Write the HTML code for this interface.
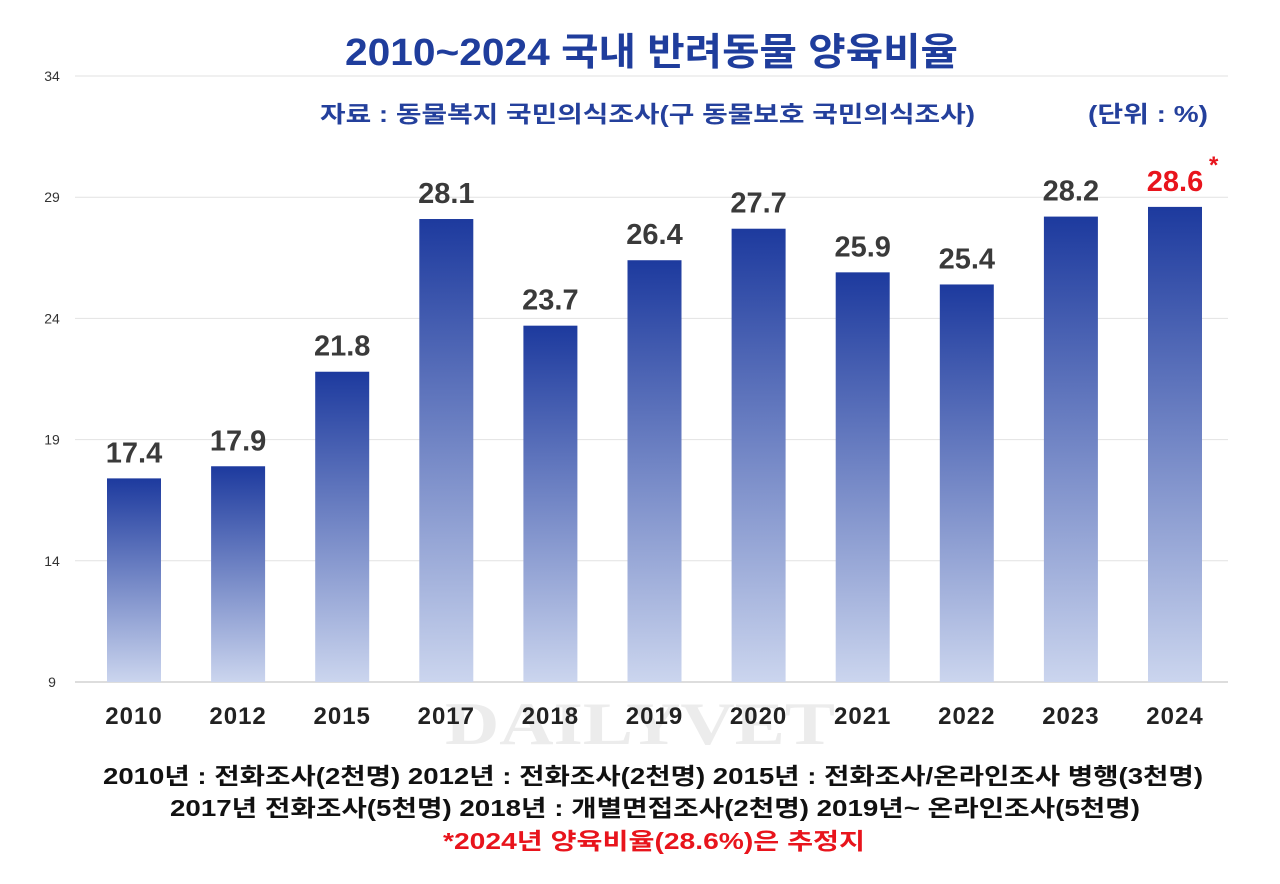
<!DOCTYPE html>
<html><head><meta charset="utf-8"><style>
html,body{margin:0;padding:0;background:#fff;}
body{width:1280px;height:879px;overflow:hidden;font-family:"Liberation Sans","Noto Sans CJK KR",sans-serif;}
svg text{font-family:"Liberation Sans","Noto Sans CJK KR",sans-serif;}
</style></head><body>
<svg id="chart" width="1280" height="879" viewBox="0 0 1280 879">
<defs><linearGradient id="g" x1="0" y1="0" x2="0" y2="1"><stop offset="0" stop-color="#1d3a9e"/><stop offset="1" stop-color="#cbd5ee"/></linearGradient></defs>
<text x="345" y="65" textLength="613" lengthAdjust="spacingAndGlyphs" font-size="38" font-weight="bold" fill="#1f3d9c">2010~2024 국내 반려동물 양육비율</text>
<text x="320" y="122" textLength="655" lengthAdjust="spacingAndGlyphs" font-size="23" font-weight="bold" fill="#24409c">자료 : 동물복지 국민의식조사(구 동물보호 국민의식조사)</text>
<text x="1088" y="122" textLength="120" lengthAdjust="spacingAndGlyphs" font-size="23" font-weight="bold" fill="#24409c">(단위 : %)</text>
<text x="445" y="744" textLength="390" lengthAdjust="spacingAndGlyphs" font-size="60" font-weight="bold" style="font-family:'Liberation Serif',serif" fill="#ececec">DAILYVET</text>
<g id="grid"></g><g id="bars"></g>
<text x="103" y="784" textLength="1100" lengthAdjust="spacingAndGlyphs" font-size="23" font-weight="bold" fill="#111">2010년 : 전화조사(2천명)  2012년 : 전화조사(2천명)  2015년 : 전화조사/온라인조사 병행(3천명)</text>
<text x="170" y="816" textLength="970" lengthAdjust="spacingAndGlyphs" font-size="23" font-weight="bold" fill="#111">2017년 전화조사(5천명) 2018년 : 개별면접조사(2천명)  2019년~ 온라인조사(5천명)</text>
<text x="443" y="849" textLength="422" lengthAdjust="spacingAndGlyphs" font-size="23" font-weight="bold" fill="#e8141c">*2024년 양육비율(28.6%)은 추정지</text>
</svg>
<script>
const categories=["2010","2012","2015","2017","2018","2019","2020","2021","2022","2023","2024"];
const values=[17.4,17.9,21.8,28.1,23.7,26.4,27.7,25.9,25.4,28.2,28.6];
const ticks=[9,14,19,24,29,34];
const NS="http://www.w3.org/2000/svg";
const y=v=>682-(v-9)*(606/25);
const x=i=>134+i*104.1;
function mk(t,a,p){const e=document.createElementNS(NS,t);for(const k in a)e.setAttribute(k,a[k]);p.appendChild(e);return e;}
const grid=document.getElementById('grid'),bars=document.getElementById('bars');
ticks.forEach(t=>{
 const l=mk('line',{x1:75,x2:1228,y1:y(t),y2:y(t),stroke:t===9?'#bbb':'#e2e2e2','stroke-width':1},grid);
 
 
 const tx=mk('text',{x:52,y:y(t)+5,'text-anchor':'middle','font-size':14,fill:'#333'},grid);tx.textContent=t;
 
 
});
categories.forEach((c,i)=>{
 const v=values[i];
 const r=mk('rect',{x:x(i)-27,y:y(v),width:54,height:682-y(v),fill:'url(#g)'},bars);
 
 
 const last=i===categories.length-1;
 const vl=mk('text',{x:x(i),y:y(v)-16,'text-anchor':'middle','font-size':29,'font-weight':'bold',fill:last?'#e8141c':'#3a3a3a'},bars);
 vl.textContent=v.toFixed(1);
 
 
 if(last){const s=mk('text',{x:x(i)+34,y:y(v)-34,'font-size':24,'font-weight':'bold',fill:'#e8141c'},bars);s.textContent='*';
 
 }
 const xl=mk('text',{x:x(i),y:724,'text-anchor':'middle','font-size':24,'font-weight':'bold',fill:'#222','letter-spacing':1},bars);
 xl.textContent=c;
 
 
});
</script>
</body></html>
